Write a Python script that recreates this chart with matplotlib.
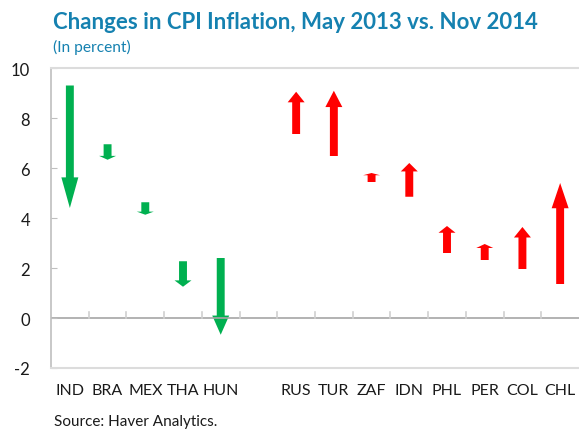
import matplotlib.pyplot as plt
import numpy as np

countries = ["IND", "BRA", "MEX", "THA", "HUN", "",
             "RUS", "TUR", "ZAF", "IDN", "PHL", "PER", "COL", "CHL"]
# May 2013 -> Nov 2014 (percent)
may_2013 = [9.3, 6.95, 4.63, 2.27, 2.4, None,
            7.36, 6.48, 5.44, 4.85, 2.6, 2.32, 1.96, 1.36]
nov_2014 = [4.4, 6.33, 4.13, 1.25, -0.67, None,
            9.05, 9.09, 5.8, 6.2, 3.68, 2.96, 3.64, 5.4]
yticks = [-2, 0, 2, 4, 6, 8, 10]

plt.rcParams['font.family'] = ['Lato', 'DejaVu Sans']

fig = plt.figure(figsize=(5.79, 4.31), dpi=100)
ax = fig.add_axes([51 / 579, 1 - 369 / 431, 528 / 579, 300 / 431])

x = np.arange(len(countries))
for xi, start, end in zip(x, may_2013, nov_2014):
    if start is None:
        continue
    dy = end - start
    color = "#00B050" if dy < 0 else "#FF0000"
    ax.arrow(xi, start, 0, dy, width=0.21, head_width=0.45,
             head_length=0.25 * abs(dy), length_includes_head=True,
             color=color, linewidth=0)

ax.set_xlim(-0.5, len(countries) - 0.5)
ax.set_ylim(-2, 10)

# zero line with small tick marks between categories
ax.axhline(0, color="#a6a6a6", linewidth=1.2, zorder=1)
for b in np.arange(0.5, len(countries) - 0.5):
    ax.plot([b, b], [0, 0.24], color="#d0d0d0", linewidth=1.2, zorder=1)

for side in ["top", "bottom"]:
    ax.spines[side].set_color("#dcdcdc")
    ax.spines[side].set_linewidth(1.5)
ax.spines["left"].set_color("#bfbfbf")
ax.spines["left"].set_linewidth(1.2)
ax.spines["right"].set_visible(False)

ax.set_yticks(yticks)
ax.set_yticklabels([str(v) for v in yticks], fontsize=12, color="#1a1a1a")
ax.tick_params(axis="y", direction="in", length=4, color="#bfbfbf", pad=15)
ax.set_xticks(x)
ax.set_xticklabels(countries, fontsize=11.5, color="#1a1a1a")
ax.tick_params(axis="x", length=0, pad=11)

fig.text(53 / 579, 1 - 29 / 431, "Changes in CPI Inflation, May 2013 vs. Nov 2014",
         fontsize=16, fontweight="bold", color="#1581B0")
fig.text(53 / 579, 1 - 52 / 431, "(In percent)", fontsize=11.2, color="#1581B0")
fig.text(54 / 579, 1 - 426 / 431, "Source: Haver Analytics.", fontsize=11, color="#1a1a1a")

fig.savefig("out.png", dpi=100)
